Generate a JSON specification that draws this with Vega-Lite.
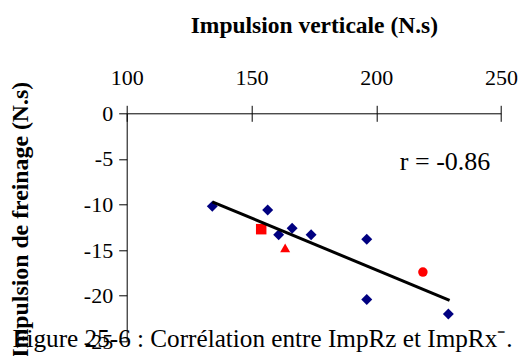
{
  "$schema": "https://vega.github.io/schema/vega-lite/v6.json",
  "width": 374.3,
  "height": 228.1,
  "autosize": {"type": "none"},
  "padding": {"left": 126.7, "top": 113.3, "right": 22, "bottom": 14.6},
  "background": "white",
  "config": {
    "view": {"stroke": null},
    "font": "Liberation Serif",
    "axis": {
      "grid": false,
      "domainColor": "black",
      "tickColor": "black",
      "labelColor": "black",
      "titleColor": "black",
      "labelFont": "Liberation Serif",
      "titleFont": "Liberation Serif",
      "domainWidth": 1,
      "tickWidth": 1
    }
  },
  "datasets": {
    "points": [
      {"vertical": 134.3, "freinage": -10.2, "groupe": "A"},
      {"vertical": 156.5, "freinage": -10.6, "groupe": "A"},
      {"vertical": 160.9, "freinage": -13.3, "groupe": "A"},
      {"vertical": 166.3, "freinage": -12.6, "groupe": "A"},
      {"vertical": 173.9, "freinage": -13.3, "groupe": "A"},
      {"vertical": 196.2, "freinage": -13.8, "groupe": "A"},
      {"vertical": 196.2, "freinage": -20.4, "groupe": "A"},
      {"vertical": 228.9, "freinage": -22.0, "groupe": "A"},
      {"vertical": 153.9, "freinage": -12.7, "groupe": "B"},
      {"vertical": 163.5, "freinage": -14.75, "groupe": "C"},
      {"vertical": 218.7, "freinage": -17.4, "groupe": "D"}
    ],
    "fit": [
      {"vertical": 134.3, "freinage": -9.7},
      {"vertical": 229.4, "freinage": -20.5}
    ],
    "note": [
      {"vertical": 227.6, "freinage": -5.3, "label": "r = -0.86"}
    ]
  },
  "layer": [
    {
      "data": {"name": "points"},
      "mark": {"type": "point", "filled": true, "opacity": 1, "strokeWidth": 0},
      "encoding": {
        "x": {
          "field": "vertical", "type": "quantitative",
          "scale": {"domain": [100, 250], "nice": false, "zero": false},
          "axis": {
            "orient": "top", "values": [100, 150, 200, 250], "tickSize": 8,
            "labelFontSize": 22, "labelPadding": 15.7, "labelFlush": false, "labelOverlap": false,
            "title": "Impulsion verticale (N.s)", "titleFontSize": 23.5, "titleFontWeight": "bold",
            "titleBaseline": "alphabetic", "titleY": -80.6
          }
        },
        "y": {
          "field": "freinage", "type": "quantitative",
          "scale": {"domain": [-25, 0], "nice": false, "zero": false},
          "axis": {
            "orient": "left", "values": [-25, -20, -15, -10, -5, 0], "tickSize": 8,
            "labelFontSize": 22, "labelPadding": 6, "labelFlush": false, "labelOverlap": false,
            "labelExpr": "datum.value < 0 ? '-' + abs(datum.value) : '' + datum.value",
            "title": "Impulsion de freinage (N.s)", "titleFontSize": 23.8, "titleFontWeight": "bold",
            "titleBaseline": "alphabetic", "titleX": -99, "titleY": 106
          }
        },
        "shape": {
          "field": "groupe", "type": "nominal",
          "scale": {"domain": ["A", "B", "C", "D"], "range": ["diamond", "square", "triangle-up", "circle"]},
          "legend": null
        },
        "color": {
          "field": "groupe", "type": "nominal",
          "scale": {"domain": ["A", "B", "C", "D"], "range": ["#000080", "#FF0000", "#FF0000", "#FF0000"]},
          "legend": null
        },
        "size": {
          "field": "groupe", "type": "ordinal",
          "scale": {"domain": ["A", "B", "C", "D"], "range": [120, 90, 145, 114]},
          "legend": null
        }
      }
    },
    {
      "data": {"name": "fit"},
      "mark": {"type": "line", "color": "black", "strokeWidth": 3},
      "encoding": {
        "x": {
          "field": "vertical", "type": "quantitative",
          "axis": {
            "orient": "top", "values": [100, 150, 200, 250], "tickSize": 8, "offset": -8,
            "labels": false, "domain": false, "title": null
          }
        },
        "y": {"field": "freinage", "type": "quantitative"}
      }
    },
    {
      "data": {"name": "note"},
      "mark": {"type": "text", "fontSize": 26, "align": "center", "baseline": "middle", "color": "black", "font": "Liberation Serif"},
      "encoding": {
        "x": {
          "field": "vertical", "type": "quantitative",
          "axis": {
            "orient": "bottom", "labels": false, "ticks": false, "domain": false,
            "title": "Figure 25-6 : Corrélation entre ImpRz et ImpRx⁻.",
            "titleFontSize": 25.2, "titleFontWeight": "normal", "titleAlign": "left",
            "titleBaseline": "alphabetic", "titleX": -114.7, "titleY": 5.2, "titleAnchor": "start"
          }
        },
        "y": {"field": "freinage", "type": "quantitative"},
        "text": {"field": "label", "type": "nominal"}
      }
    }
  ],
  "resolve": {"axis": {"x": "independent", "y": "shared"}}
}
